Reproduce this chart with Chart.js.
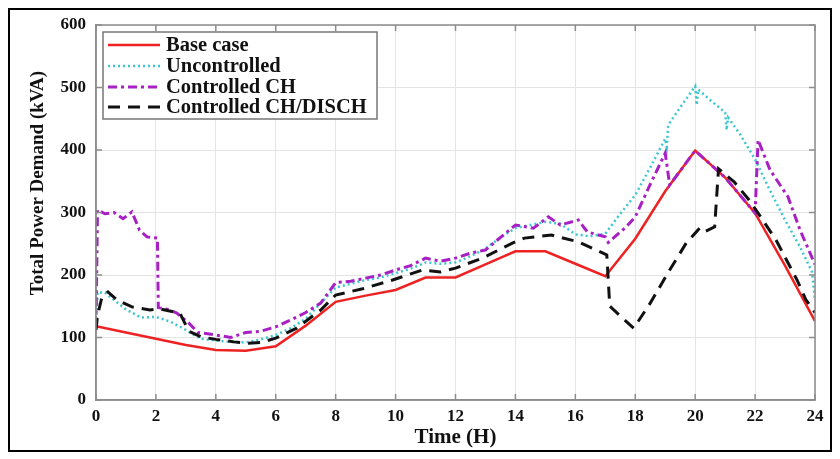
<!DOCTYPE html>
<html>
<head>
<meta charset="utf-8">
<script src="https://cdn.jsdelivr.net/npm/chart.js@4.4.1/dist/chart.umd.min.js"></script>
<style>
html, body { margin: 0; padding: 0; background: #fff; }
</style>
</head>
<body>
<canvas id="demand" width="840" height="459"></canvas>
<script>
// axis ticks
const xTicks = [0, 2, 4, 6, 8, 10, 12, 14, 16, 18, 20, 22, 24];
const yTicks = [0, 100, 200, 300, 400, 500, 600];

const seriesNames = ['Base case', 'Uncontrolled', 'Controlled CH', 'Controlled CH/DISCH'];

// Base case
const baseHours = [0, 1, 2, 3, 4, 5, 6, 7, 8, 9, 10, 11, 12, 13, 14, 15, 16, 17, 18, 19, 20, 21, 22, 23, 24];
const baseKva = [118, 108, 98, 88, 80, 79, 86, 119, 157, 167, 176, 196, 196, 217, 238, 238, 218, 198, 258, 334, 399, 356, 299, 215, 126];

// Uncontrolled
const uncHours = [0, 0.05, 0.3, 0.6, 1, 1.5, 2, 2.5, 3, 3.5, 4, 4.5, 5, 5.5, 6, 6.5, 7, 7.5, 8, 8.5, 9, 9.5, 10, 10.5, 11, 11.5, 12, 12.5, 13, 13.5, 14, 14.5, 15, 15.5, 16, 16.5, 17, 17.5, 18, 18.5, 19, 19.05, 19.1, 19.5, 20, 20.05, 20.1, 20.5, 21, 21.05, 21.1, 21.5, 22, 22.5, 23, 23.5, 23.9, 24];
const uncKva = [120, 172, 172, 160, 145, 132, 133, 125, 112, 98, 95, 93, 92, 97, 104, 115, 130, 155, 180, 186, 192, 196, 203, 210, 220, 218, 220, 230, 242, 260, 275, 280, 285, 282, 265, 262, 266, 298, 328, 372, 418, 405, 440, 468, 502, 472, 497, 480, 460, 432, 452, 425, 385, 335, 288, 245, 205, 160];

// Controlled CH
const chHours = [0, 0.05, 0.3, 0.6, 0.9, 1.2, 1.45, 1.7, 2.05, 2.08, 2.4, 2.7, 3.1, 3.4, 4, 4.5, 5, 5.5, 6, 6.5, 7, 7.5, 8, 8.5, 9, 9.5, 10, 10.5, 11, 11.5, 12, 12.5, 13, 13.4, 14, 14.6, 15.1, 15.5, 16.1, 16.4, 17, 17.1, 17.7, 18, 18.5, 19, 19.15, 20, 21, 22, 22.1, 22.5, 23.1, 23.5, 24];
const chKva = [118, 304, 298, 300, 290, 301, 272, 261, 259, 148, 145, 139, 123, 108, 104, 100, 108, 110, 117, 128, 140, 155, 188, 190, 195, 200, 208, 215, 227, 222, 227, 235, 240, 256, 280, 275, 293, 280, 288, 269, 261, 252, 277, 293, 345, 395, 344, 399, 356, 299, 416, 368, 325, 272, 217];

// Controlled CH/DISCH
const chdHours = [0, 0.05, 0.2, 0.4, 0.7, 1.2, 1.8, 2.1, 2.8, 3.1, 3.5, 4, 4.6, 5.1, 5.5, 6, 6.7, 7.5, 8, 8.9, 9.9, 10.9, 11.5, 12, 12.9, 13.9, 14.3, 15.2, 16.1, 16.7, 17.05, 17.15, 17.6, 17.95, 18.5, 19.15, 19.7, 20.15, 20.3, 20.65, 20.78, 21.3, 21.8, 22.2, 22.7, 23.4, 23.7, 24];
const chdKva = [112, 135, 165, 173, 160, 149, 144, 146, 139, 110, 101, 97, 93, 91, 92, 99, 115, 144, 168, 178, 192, 208, 205, 211, 227, 251, 259, 264, 253, 240, 232, 150, 130, 115, 155, 208, 251, 275, 269, 277, 370, 349, 320, 292, 256, 192, 160, 140];

function pts(hours, vals) {
    return hours.map((h, i) => ({ x: h, y: vals[i] }));
}

const serif = '"Liberation Serif", "Times New Roman", serif';
const yTitle = 'Total Power Demand (kVA)';

const frame = {
    id: 'frame',
    beforeDraw(chart) {
        let ctx = chart.ctx;
        ctx.save();
        ctx.fillStyle = '#fff';
        ctx.fillRect(0, 0, chart.width, chart.height);
        ctx.restore();
    },
    afterDraw(chart) {
        let ctx = chart.ctx;
        let a = chart.chartArea;
        let xs = chart.scales.x, ys = chart.scales.y;
        ctx.save();
        // axes box
        ctx.strokeStyle = '#8c8c8c';
        ctx.lineWidth = 1.5;
        ctx.strokeRect(a.left, a.top, a.right - a.left, a.bottom - a.top);
        // inward ticks
        ctx.beginPath();
        xTicks.forEach(v => {
            let px = xs.getPixelForValue(v);
            ctx.moveTo(px, a.bottom); ctx.lineTo(px, a.bottom - 6);
            ctx.moveTo(px, a.top); ctx.lineTo(px, a.top + 6);
        });
        yTicks.forEach(v => {
            let py = ys.getPixelForValue(v);
            ctx.moveTo(a.left, py); ctx.lineTo(a.left + 6, py);
            ctx.moveTo(a.right, py); ctx.lineTo(a.right - 6, py);
        });
        ctx.stroke();

        // y axis title, sits a bit above the middle as in the original
        ctx.save();
        ctx.translate(38, 183);
        ctx.rotate(-Math.PI / 2);
        ctx.fillStyle = '#111';
        ctx.font = 'bold 19px ' + serif;
        ctx.textAlign = 'center';
        ctx.textBaseline = 'middle';
        ctx.fillText(yTitle, 0, 0);
        ctx.restore();

        // legend
        let lx = 103, ly = 32, lw = 274, lh = 87;
        ctx.fillStyle = '#fff';
        ctx.fillRect(lx, ly, lw, lh);
        ctx.strokeStyle = '#777';
        ctx.lineWidth = 1.5;
        ctx.strokeRect(lx, ly, lw, lh);
        let rows = [45, 66, 87, 107];
        chart.data.datasets.forEach((ds, i) => {
            let y = rows[i];
            ctx.beginPath();
            ctx.setLineDash(ds.borderDash || []);
            ctx.strokeStyle = ds.borderColor;
            ctx.lineWidth = ds.borderWidth;
            ctx.moveTo(108, y);
            ctx.lineTo(160, y);
            ctx.stroke();
            ctx.setLineDash([]);
            ctx.fillStyle = '#111';
            ctx.font = 'bold 20.5px ' + serif;
            ctx.textBaseline = 'middle';
            ctx.fillText(ds.label, 166, y + 1);
        });

        // outer frame
        ctx.strokeStyle = '#000';
        ctx.lineWidth = 2;
        ctx.strokeRect(9, 9, 822, 442);
        ctx.restore();
    }
};

const config = {
    type: 'line',
    data: {
        datasets: [
            {
                label: seriesNames[0], data: pts(baseHours, baseKva),
                borderColor: '#ee2222', borderWidth: 2.5, order: 3
            },
            {
                label: seriesNames[1], data: pts(uncHours, uncKva),
                borderColor: '#3cc6cf', borderWidth: 2.5, borderDash: [2, 3], order: 2
            },
            {
                label: seriesNames[2], data: pts(chHours, chKva),
                borderColor: '#a820c4', borderWidth: 3, borderDash: [9, 4, 3, 4], order: 1
            },
            {
                label: seriesNames[3], data: pts(chdHours, chdKva),
                borderColor: '#111111', borderWidth: 3, borderDash: [12, 8], order: 0
            }
        ]
    },
    options: {
        responsive: false,
        animation: false,
        layout: { padding: { left: 0, right: 25, top: 25, bottom: 0 } },
        elements: { point: { radius: 0 }, line: { tension: 0, fill: false } },
        plugins: { legend: { display: false }, tooltip: { enabled: false } },
        scales: {
            x: {
                type: 'linear', min: 0, max: 24,
                afterBuildTicks: s => { s.ticks = xTicks.map(v => ({ value: v })); },
                afterFit: s => { s.height = 59; },
                ticks: { font: { family: serif, weight: 'bold', size: 17 }, color: '#111', padding: 6, maxRotation: 0 },
                grid: { color: '#e4e4e4', drawTicks: false },
                border: { color: '#8c8c8c', width: 1.5 },
                title: { display: true, text: 'Time (H)', color: '#111', font: { family: serif, weight: 'bold', size: 21 }, padding: { top: 0, bottom: 9 } }
            },
            y: {
                min: 0, max: 600,
                afterBuildTicks: s => { s.ticks = yTicks.map(v => ({ value: v })); },
                afterFit: s => { s.width = 96; },
                ticks: { font: { family: serif, weight: 'bold', size: 17 }, color: '#111', padding: 10 },
                grid: { color: '#e4e4e4', drawTicks: false },
                border: { color: '#8c8c8c', width: 1.5 }
            }
        }
    },
    plugins: [frame]
};

let chart = new Chart('demand', config);
</script>
</body>
</html>
